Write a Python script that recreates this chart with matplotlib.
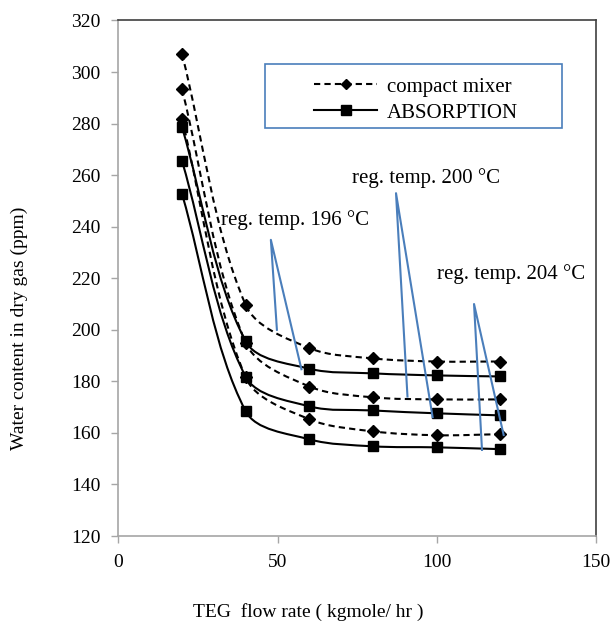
import matplotlib
matplotlib.use("Agg")
import numpy as np
import matplotlib.pyplot as plt
from matplotlib.path import Path
from matplotlib.patches import PathPatch, Rectangle
from matplotlib.lines import Line2D

# TEG flow rate (kgmole/hr)
flow = [20, 40, 60, 80, 100, 120]

# water content in dry gas (ppm) - compact mixer (dashed) and absorption (solid)
mixer_196 = [307.0, 209.6, 192.9, 188.9, 187.7, 187.7]
mixer_200 = [293.3, 195.0, 178.0, 173.8, 173.0, 173.0]
mixer_204 = [281.7, 181.5, 165.3, 160.6, 159.1, 159.5]
absorption_196 = [278.6, 195.5, 184.9, 183.1, 182.3, 181.9]
absorption_200 = [265.5, 181.8, 170.3, 168.7, 167.6, 166.8]
absorption_204 = [252.7, 168.4, 157.5, 154.8, 154.4, 153.7]

x_ticks = [0, 50, 100, 150]
y_ticks = [120, 140, 160, 180, 200, 220, 240, 260, 280, 300, 320]

# callout labels and their blue pointer lines (data coords)
callout_labels = ["reg. temp. 196 °C", "reg. temp. 200 °C", "reg. temp. 204 °C"]
callout_text_xy = [(32.3, 242.6), (73.3, 258.9), (100.2, 221.7)]
callout_lines = [
    ([49.8, 47.9, 57.5], [200.0, 234.9, 184.7]),
    ([90.8, 87.2, 98.7], [174.1, 253.0, 166.1]),
    ([114.2, 111.7, 121.0], [153.4, 210.0, 159.2]),
]

FONT = "Liberation Serif"
BLUE = "#4a7ebb"
GREY = "#a6a6a6"


def smooth_path(ax, x, y):
    # Excel-like smoothed line: Bezier segments, tangents weighted by
    # segment lengths measured on screen
    pts = np.column_stack([x, y]).astype(float)
    scr = ax.transData.transform(pts)
    n = len(pts)
    verts = [tuple(pts[0])]
    codes = [Path.MOVETO]
    for i in range(n - 1):
        i0, i3 = max(i - 1, 0), min(i + 2, n - 1)
        d01 = np.hypot(*(scr[i] - scr[i0]))
        d12 = np.hypot(*(scr[i + 1] - scr[i]))
        d23 = np.hypot(*(scr[i3] - scr[i + 1]))
        c1 = pts[i] + (pts[i + 1] - pts[i0]) * d12 / (3 * (d01 + d12))
        c2 = pts[i + 1] - (pts[i3] - pts[i]) * d12 / (3 * (d12 + d23))
        verts += [tuple(c1), tuple(c2), tuple(pts[i + 1])]
        codes += [Path.CURVE4] * 3
    return Path(verts, codes)


fig = plt.figure(figsize=(6.15, 6.24), dpi=100)
ax = fig.add_axes([0.1924, 0.141, 0.7767, 0.8262])
ax.set_xlim(0, 150)
ax.set_ylim(120, 320)

for series in [mixer_196, mixer_200, mixer_204]:
    ax.add_patch(PathPatch(smooth_path(ax, flow, series), fill=False, color="black",
                           lw=1.5, linestyle=(0, (3, 2)), zorder=3))
    ax.plot(flow, series, linestyle="none", marker="D", ms=6.5, color="black", zorder=4)

for series in [absorption_196, absorption_200, absorption_204]:
    ax.add_patch(PathPatch(smooth_path(ax, flow, series), fill=False, color="black",
                           lw=1.5, zorder=3))
    ax.plot(flow, series, linestyle="none", marker="s", ms=7, color="black", zorder=4)

# callouts
for label, (tx, ty), (lx, ly) in zip(callout_labels, callout_text_xy, callout_lines):
    ax.plot(lx, ly, color=BLUE, lw=1.5, zorder=5)
    ax.text(tx, ty, label, fontsize=15, family=FONT, ha="left", va="center", zorder=6)

ax.set_xticks(x_ticks)
ax.set_yticks(y_ticks)
ax.tick_params(direction="out", length=5, width=1, color=GREY, labelsize=14, pad=8)
for lab in ax.get_xticklabels() + ax.get_yticklabels():
    lab.set_family(FONT)

ax.spines["left"].set_color(GREY)
ax.spines["bottom"].set_color(GREY)
ax.spines["top"].set_color("#404040")
ax.spines["right"].set_color("#404040")
for s in ax.spines.values():
    s.set_linewidth(1.2)

ax.set_ylabel("Water content in dry gas (ppm)", fontsize=14, family=FONT)
ax.yaxis.set_label_coords(-0.19, 0.4025)
ax.set_xlabel("TEG  flow rate ( kgmole/ hr )", fontsize=14, family=FONT)
ax.xaxis.set_label_coords(0.397, -0.13)

# legend with blue box
ax.add_patch(Rectangle((0.307, 0.7915), 0.622, 0.1241, transform=ax.transAxes,
                       fill=True, facecolor="white", edgecolor=BLUE, lw=1.2, zorder=6))
handles = [
    Line2D([], [], color="black", lw=1.5, linestyle=(0, (3, 2)), marker="D", ms=5),
    Line2D([], [], color="black", lw=1.5, marker="s", ms=7),
]
leg = ax.legend(handles, ["compact mixer", "ABSORPTION"], loc="center",
                bbox_to_anchor=(0.624, 0.846), frameon=False,
                prop={"family": FONT, "size": 15}, handlelength=3.0,
                handletextpad=0.5, labelspacing=0.3)
leg.set_zorder(7)

fig.savefig("out.png", dpi=100)
